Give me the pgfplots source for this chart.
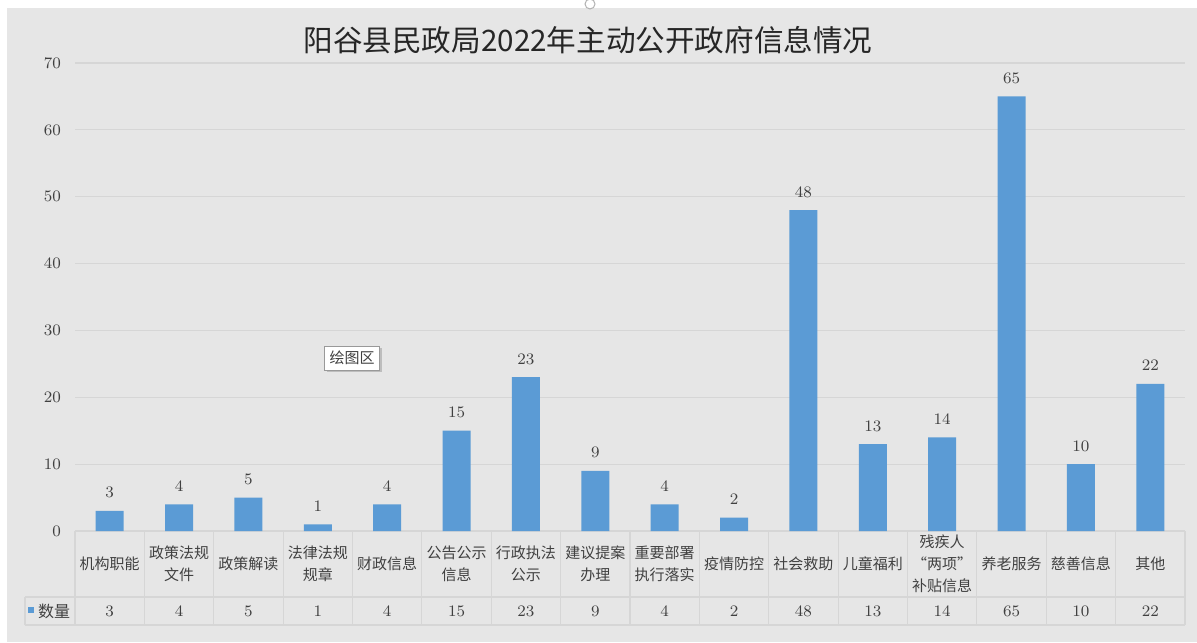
\documentclass[border=0pt]{standalone}
\usepackage{pgfplots}
\pgfplotsset{compat=1.18}
\usepackage{pgfplotstable}
\usepackage{fontspec}
\setmainfont{Noto Sans CJK SC}
\usetikzlibrary{shadows}

\definecolor{bgc}{RGB}{230,230,230}
\definecolor{gridc}{RGB}{214,214,214}
\definecolor{barc}{RGB}{91,155,213}
\definecolor{txtc}{RGB}{64,64,64}

% category index, count
\pgfplotstableread{
x v
0 3
1 4
2 5
3 1
4 4
5 15
6 23
7 9
8 4
9 2
10 48
11 13
12 14
13 65
14 10
15 22
}\counts

\begin{document}
\begin{tikzpicture}[x=1pt,y=1pt]
\useasboundingbox (0,0) rectangle (598.5,321);
\fill[white] (0,0) rectangle (598.5,321);
\fill[bgc] (3.5,0) rectangle (598.5,317);
\draw[gray!60, line width=0.5pt] (295,319) circle (2.5);

\node[font=\fontsize{14.8}{16}\selectfont, text=black!85] at (294,301)
  {阳谷县民政局2022年主动公开政府信息情况};

\begin{axis}[
  at={(37.5pt,55.5pt)}, anchor=south west,
  scale only axis, width=555pt, height=234pt,
  xmin=-0.5, xmax=15.5, ymin=0, ymax=70,
  axis line style={draw=none},
  clip=false,
  ytick={0,10,...,70},
  ymajorgrids, grid style={color=gridc, line width=0.6pt},
  xtick={0,...,15},
  xticklabels={机构职能, 政策法规\\文件, 政策解读, 法律法规\\规章, 财政信息,
    公告公示\\信息, 行政执法\\公示, 建议提案\\办理, 重要部署\\执行落实, 疫情防控,
    社会救助, 儿童福利, 残疾人\\“两项”\\补贴信息, 养老服务, 慈善信息, 其他},
  xtick style={draw=none}, ytick style={draw=none},
  ticklabel style={text=txtc},
  yticklabel style={font=\fontsize{8}{9}\selectfont, xshift=-3.5pt},
  xticklabel style={font=\fontsize{7.5}{11}\selectfont, align=center,
    anchor=center, yshift=-16.5pt},
]
\addplot[ybar, bar width=14pt, fill=barc, draw=none,
  nodes near coords,
  every node near coord/.append style={font=\fontsize{8}{9}\selectfont, text=txtc, yshift=3pt}]
  table[x=x, y=v] {\counts};
% values of the data table row
\addplot[draw=none, mark=none, nodes near coords, point meta=explicit,
  every node near coord/.append style={anchor=center, font=\fontsize{8}{9}\selectfont, text=txtc}]
  table[x=x, y expr=-11.96, meta=v] {\counts};
\pgfplotsinvokeforeach{-0.5,0.5,...,15.5}{
  \draw[gridc, line width=0.6pt] (axis cs:#1,0) -- ([yshift=-47pt]axis cs:#1,0);
}
\end{axis}

% data table rules and row header
\draw[gridc, line width=0.6pt] (12.5,22.5) -- (592.5,22.5);
\draw[gridc, line width=0.6pt] (12.5,8.5) -- (592.5,8.5);
\draw[gridc, line width=0.6pt] (12.5,8.5) -- (12.5,22.5);
\fill[barc] (14,14.5) rectangle (17,17.5);
\node[font=\fontsize{8}{9}\selectfont, text=txtc] at (27,15.5) {数量};

\node[draw=gray!80, fill=white, drop shadow={shadow xshift=1.2pt, shadow yshift=-1.2pt, opacity=0.4},
  font=\fontsize{7.5}{9}\selectfont, text=txtc, inner sep=2.5pt] at (176,142) {绘图区};
\end{tikzpicture}
\end{document}
